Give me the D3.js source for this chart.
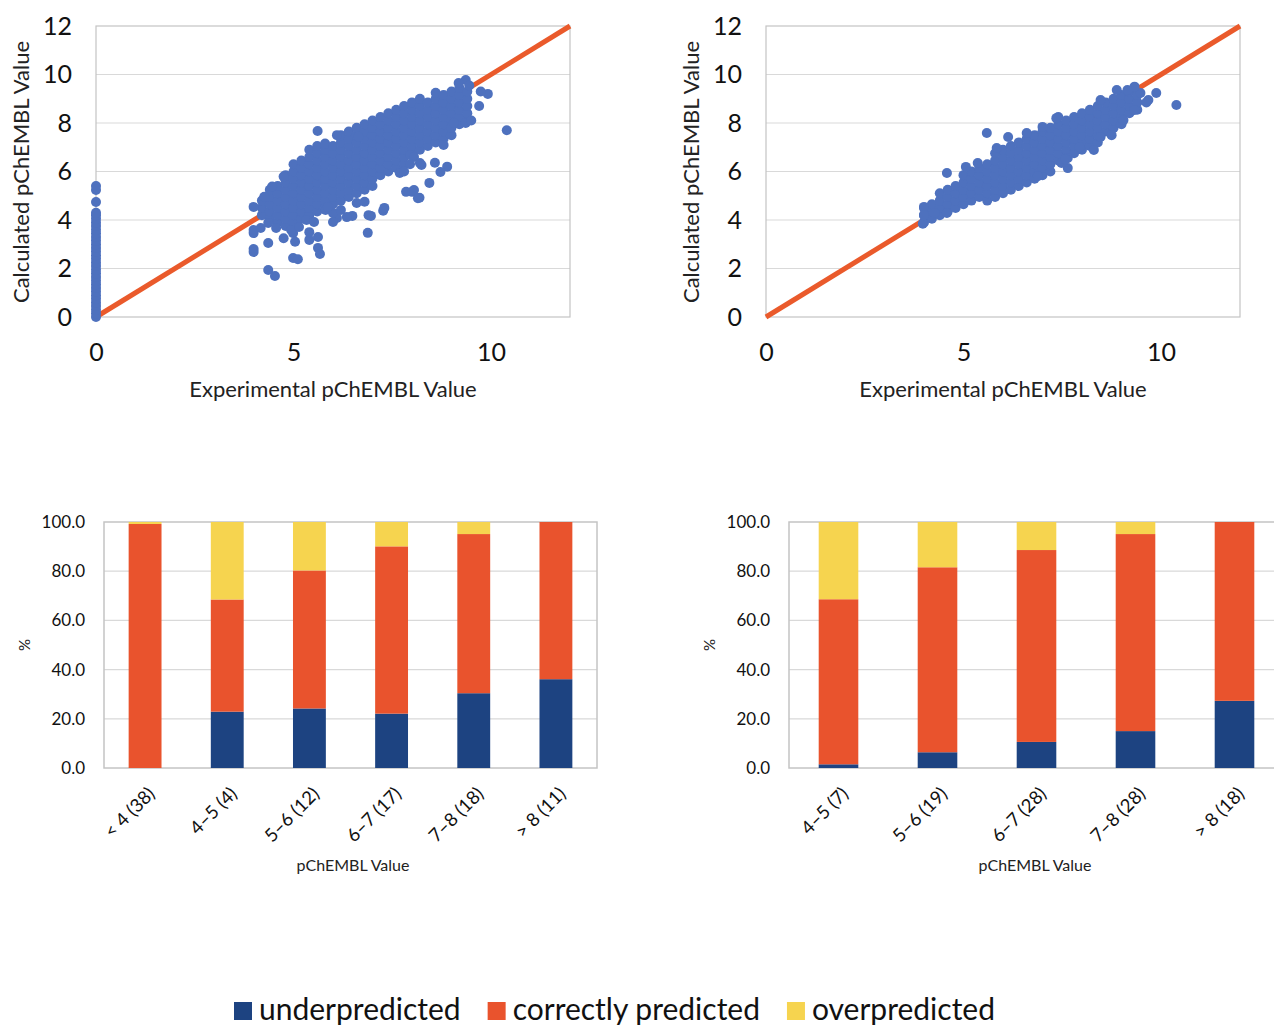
<!DOCTYPE html>
<html>
<head>
<meta charset="utf-8">
<script src="https://cdn.jsdelivr.net/npm/d3@7"></script>
<style>
  body { margin: 0; background: #fff; }
  svg { display: block; font-family: Lato, "Open Sans", sans-serif; }
</style>
</head>
<body>
<div id="chart"></div>
<script>
// ---- scatter data ----
const scatterTicksY = [0, 2, 4, 6, 8, 10, 12];
const scatterTicksX = [0, 5, 10];

// left plot: compounds with experimental value 0 sit in a strip at x = 0
const leftStripY = [0, 0.15, 0.3, 0.45, 0.6, 0.75, 0.9, 1.05, 1.2, 1.35, 1.5, 1.65, 1.8, 1.95,
  2.1, 2.25, 2.4, 2.55, 2.7, 2.85, 3.0, 3.15, 3.3, 3.45, 3.6, 3.75, 3.9, 4.05, 4.2, 4.3, 4.74, 5.24, 5.4];

// dense part of the clouds, one row per x: [x, y1, y2, ...]
const leftCore = [
  [4.2, 4.2, 4.5, 4.8],
  [4.4, 4.05, 4.35, 4.65, 4.95, 5.25],
  [4.6, 3.9, 4.2, 4.5, 4.8, 5.1, 5.4],
  [4.8, 3.75, 4.05, 4.35, 4.65, 4.95, 5.25, 5.55, 5.85],
  [5.0, 3.9, 4.2, 4.5, 4.8, 5.1, 5.4, 5.7, 6.0, 6.3],
  [5.2, 4.05, 4.35, 4.65, 4.95, 5.25, 5.55, 5.85, 6.15, 6.45],
  [5.4, 4.2, 4.5, 4.8, 5.1, 5.4, 5.7, 6.0, 6.3, 6.6, 6.9],
  [5.6, 4.35, 4.65, 4.95, 5.25, 5.55, 5.85, 6.15, 6.45, 6.75, 7.05],
  [5.8, 4.5, 4.8, 5.1, 5.4, 5.7, 6.0, 6.3, 6.6, 6.9, 7.15],
  [6.0, 4.65, 4.95, 5.25, 5.55, 5.85, 6.15, 6.45, 6.75, 7.05],
  [6.2, 4.8, 5.1, 5.4, 5.7, 6.0, 6.3, 6.6, 6.9, 7.2, 7.5],
  [6.4, 4.95, 5.25, 5.55, 5.85, 6.15, 6.45, 6.75, 7.05, 7.35, 7.65],
  [6.6, 5.1, 5.4, 5.7, 6.0, 6.3, 6.6, 6.9, 7.2, 7.5, 7.8],
  [6.8, 5.25, 5.55, 5.85, 6.15, 6.45, 6.75, 7.05, 7.35, 7.65, 7.95],
  [7.0, 5.4, 5.7, 6.0, 6.3, 6.6, 6.9, 7.2, 7.5, 7.8, 8.1],
  [7.2, 5.85, 6.15, 6.45, 6.75, 7.05, 7.35, 7.65, 7.95, 8.25],
  [7.4, 6.0, 6.3, 6.6, 6.9, 7.2, 7.5, 7.8, 8.1, 8.4],
  [7.6, 6.15, 6.45, 6.75, 7.05, 7.35, 7.65, 7.95, 8.25, 8.55],
  [7.8, 6.3, 6.6, 6.9, 7.2, 7.5, 7.8, 8.1, 8.4, 8.7],
  [8.0, 6.75, 7.05, 7.35, 7.65, 7.95, 8.25, 8.55, 8.85],
  [8.2, 6.9, 7.2, 7.5, 7.8, 8.1, 8.4, 8.7, 9.0],
  [8.4, 7.05, 7.35, 7.65, 7.95, 8.25, 8.55, 8.85],
  [8.6, 7.2, 7.5, 7.8, 8.1, 8.4, 8.7, 9.0, 9.25],
  [8.8, 7.35, 7.65, 7.95, 8.25, 8.55, 8.85, 9.15],
  [9.0, 7.5, 7.8, 8.1, 8.4, 8.7, 9.0, 9.3],
  [9.2, 7.95, 8.25, 8.55, 8.85, 9.15, 9.45],
  [9.4, 8.1, 8.4, 8.7, 9.0, 9.3]
];

const leftOutliers = [
  [5.61, 7.67], [10.4, 7.7], [9.92, 9.2], [9.74, 9.3], [9.7, 8.7], [9.36, 9.77], [9.18, 9.65],
  [9.36, 8.0], [9.5, 8.1], [9.06, 8.0], [8.89, 6.2], [8.58, 6.36], [8.72, 5.98], [8.24, 6.27],
  [8.44, 5.53], [7.85, 5.16], [8.0, 5.16], [8.19, 4.92], [8.05, 5.24], [7.27, 4.38], [7.3, 4.5],
  [6.88, 3.47], [6.96, 4.17], [6.49, 4.17], [6.35, 4.12], [6.1, 4.08], [6.0, 3.92], [5.62, 3.3],
  [5.62, 2.85], [5.67, 2.6], [5.4, 3.18], [5.4, 3.5], [4.99, 3.46], [5.04, 3.1], [4.75, 3.25],
  [4.99, 2.43], [5.11, 2.38], [4.36, 3.05], [3.99, 2.8], [3.99, 2.68], [4.36, 1.94], [4.53, 1.69],
  [3.99, 3.46], [3.99, 3.59], [3.99, 4.54], [4.17, 3.67], [4.36, 3.88], [4.56, 3.67], [4.94, 3.59],
  [5.14, 3.71], [5.33, 4.0], [5.52, 3.92], [5.81, 4.41], [6.0, 4.29], [6.2, 4.41], [8.8, 7.09],
  [7.69, 5.94], [7.95, 6.68], [8.05, 6.6], [6.1, 7.5], [6.64, 7.43], [7.95, 6.3], [8.2, 6.35],
  [8.15, 4.9], [7.8, 6.0], [6.9, 4.2], [6.6, 4.7], [6.8, 4.75], [9.45, 9.55], [5.87, 4.54],
  [4.26, 4.96], [4.46, 5.38], [4.75, 5.79]
];

const rightCore = [
  [4.0, 3.9, 4.2, 4.5],
  [4.2, 4.05, 4.35, 4.65],
  [4.4, 4.2, 4.5, 4.8, 5.1],
  [4.6, 4.35, 4.65, 4.95, 5.25],
  [4.8, 4.5, 4.8, 5.1, 5.4],
  [5.0, 4.65, 4.95, 5.25, 5.55, 5.85],
  [5.2, 4.8, 5.1, 5.4, 5.7, 6.0],
  [5.4, 4.95, 5.25, 5.55, 5.85, 6.15],
  [5.6, 4.8, 5.1, 5.4, 5.7, 6.0, 6.3],
  [5.8, 4.95, 5.25, 5.55, 5.85, 6.15, 6.45, 6.75],
  [6.0, 5.1, 5.4, 5.7, 6.0, 6.3, 6.6, 6.9],
  [6.2, 5.25, 5.55, 5.85, 6.15, 6.45, 6.75, 7.05],
  [6.4, 5.4, 5.7, 6.0, 6.3, 6.6, 6.9, 7.2],
  [6.6, 5.55, 5.85, 6.15, 6.45, 6.75, 7.05, 7.35],
  [6.8, 5.7, 6.0, 6.3, 6.6, 6.9, 7.2, 7.5],
  [7.0, 5.85, 6.15, 6.45, 6.75, 7.05, 7.35, 7.65],
  [7.2, 6.0, 6.3, 6.6, 6.9, 7.2, 7.5, 7.8],
  [7.4, 6.45, 6.75, 7.05, 7.35, 7.65, 7.95, 8.25],
  [7.6, 6.6, 6.9, 7.2, 7.5, 7.8, 8.1],
  [7.8, 6.75, 7.05, 7.35, 7.65, 7.95, 8.25],
  [8.0, 6.9, 7.2, 7.5, 7.8, 8.1, 8.4],
  [8.2, 7.05, 7.35, 7.65, 7.95, 8.25, 8.55],
  [8.4, 7.2, 7.5, 7.8, 8.1, 8.4, 8.7],
  [8.6, 7.65, 7.95, 8.25, 8.55, 8.85],
  [8.8, 7.8, 8.1, 8.4, 8.7, 9.0],
  [9.0, 7.95, 8.25, 8.55, 8.85, 9.15],
  [9.2, 8.4, 8.7, 9.0, 9.3],
  [9.4, 8.55, 8.85, 9.15]
];

const rightOutliers = [
  [10.39, 8.74], [9.88, 9.24], [9.68, 8.95], [9.63, 8.85], [9.48, 9.24], [9.33, 9.5], [9.15, 9.36],
  [8.88, 9.36], [8.75, 7.5], [8.3, 6.89], [7.64, 6.14], [7.64, 6.56], [7.48, 6.35], [7.58, 6.5],
  [6.88, 5.81], [5.59, 7.59], [6.13, 7.42], [4.58, 5.94], [4.0, 4.54], [3.97, 3.85], [4.0, 4.2],
  [5.06, 6.19], [5.36, 6.35], [7.35, 8.2], [8.47, 8.95], [9.33, 8.54], [9.05, 8.12], [8.47, 7.42],
  [7.94, 7.0], [5.84, 6.97], [6.6, 7.59], [7.0, 7.84], [4.27, 4.29], [4.58, 4.29]
];

// ---- bar data (percent per pChEMBL bin) ----
const barTicks = [0, 20, 40, 60, 80, 100];
const seriesNames = ['underpredicted', 'correctly predicted', 'overpredicted'];
const seriesColors = ['#1d4381', '#e9532d', '#f6d44f'];

const leftBins = ['< 4 (38)', '4–5 (4)', '5–6 (12)', '6–7 (17)', '7–8 (18)', '> 8 (11)'];
const leftUnder = [0, 22.9, 24.2, 22.1, 30.4, 36.1];
const leftCorrect = [99.2, 45.6, 56.1, 68.0, 64.7, 63.9];
const leftOver = [0.8, 31.5, 19.7, 9.9, 4.9, 0];

const rightBins = ['4–5 (7)', '5–6 (19)', '6–7 (28)', '7–8 (28)', '> 8 (18)'];
const rightUnder = [1.5, 6.4, 10.6, 15.0, 27.3];
const rightCorrect = [67.1, 75.2, 78.0, 80.1, 72.7];
const rightOver = [31.4, 18.4, 11.4, 4.9, 0];

const W = 1274, H = 1027;
const svg = d3.select('#chart').append('svg')
  .attr('width', W)
  .attr('height', H);

function flatten(core, extra) {
  const pts = [];
  core.forEach(row => row.slice(1).forEach(v => pts.push([row[0], v])));
  return pts.concat(extra);
}

function drawScatter(ox, points) {
  const g = svg.append('g');
  const x = d3.scaleLinear().domain([0, 12]).range([ox + 96, ox + 570]);
  const y = d3.scaleLinear().domain([0, 12]).range([317, 26]);

  g.selectAll('.grid')
    .data(scatterTicksY.slice(1, -1))
    .enter()
    .append('line')
    .attr('x1', x(0)).attr('x2', x(12))
    .attr('y1', d => y(d)).attr('y2', d => y(d))
    .attr('stroke', '#d9d9d9')
    .attr('stroke-width', 1.2);

  g.append('rect')
    .attr('x', x(0)).attr('y', y(12))
    .attr('width', x(12) - x(0)).attr('height', y(0) - y(12))
    .attr('fill', 'none')
    .attr('stroke', '#c4c4c4')
    .attr('stroke-width', 1.2);

  const yAxis = g.append('g')
    .attr('transform', `translate(${x(0)},0)`)
    .call(d3.axisLeft(y).tickValues(scatterTicksY).tickSize(0).tickPadding(24));
  const xAxis = g.append('g')
    .attr('transform', `translate(0,${y(0)})`)
    .call(d3.axisBottom(x).tickValues(scatterTicksX).tickSize(0).tickPadding(26));
  [yAxis, xAxis].forEach(a => {
    a.select('.domain').remove();
    a.attr('font-family', 'Lato, sans-serif').attr('font-size', 25);
    a.selectAll('text').attr('fill', '#111');
  });

  // 1:1 line
  g.append('line')
    .attr('x1', x(0)).attr('y1', y(0))
    .attr('x2', x(12)).attr('y2', y(12))
    .attr('stroke', '#ea5a2b')
    .attr('stroke-width', 5);

  g.selectAll('circle')
    .data(points)
    .enter()
    .append('circle')
    .attr('cx', d => x(d[0]))
    .attr('cy', d => y(d[1]))
    .attr('r', 5)
    .attr('fill', '#4e71be');

  g.append('text')
    .attr('transform', `translate(${ox + 29},172) rotate(-90)`)
    .attr('text-anchor', 'middle')
    .attr('font-size', 22)
    .attr('fill', '#222')
    .text('Calculated pChEMBL Value');

  g.append('text')
    .attr('x', (x(0) + x(12)) / 2 + 0)
    .attr('y', 397)
    .attr('text-anchor', 'middle')
    .attr('font-size', 22)
    .attr('fill', '#222')
    .text('Experimental pChEMBL Value');
}

function drawBars(x0, x1, bins, under, correct, over, pctX, titleX) {
  const g = svg.append('g');
  const rows = bins.map((b, i) => ({ bin: b, under: under[i], correct: correct[i], over: over[i] }));
  const keys = ['under', 'correct', 'over'];
  const stacked = d3.stack().keys(keys)(rows);

  const x = d3.scaleBand().domain(bins).range([x0, x1]).paddingInner(0.6).paddingOuter(0.3);
  const y = d3.scaleLinear().domain([0, 100]).range([768, 522]);

  g.selectAll('.grid')
    .data(barTicks.slice(1, -1))
    .enter()
    .append('line')
    .attr('x1', x0).attr('x2', x1)
    .attr('y1', d => y(d)).attr('y2', d => y(d))
    .attr('stroke', '#d9d9d9')
    .attr('stroke-width', 1.2);

  g.append('rect')
    .attr('x', x0).attr('y', y(100))
    .attr('width', x1 - x0).attr('height', y(0) - y(100))
    .attr('fill', 'none')
    .attr('stroke', '#c4c4c4')
    .attr('stroke-width', 1.5);

  g.selectAll('.series')
    .data(stacked)
    .enter()
    .append('g')
    .attr('fill', (d, i) => seriesColors[i])
    .selectAll('rect')
    .data(d => d)
    .enter()
    .append('rect')
    .attr('x', d => x(d.data.bin))
    .attr('width', x.bandwidth())
    .attr('y', d => y(d[1]))
    .attr('height', d => y(d[0]) - y(d[1]));

  const yAxis = g.append('g')
    .attr('transform', `translate(${x0},0)`)
    .call(d3.axisLeft(y).tickValues(barTicks).tickSize(0).tickPadding(19).tickFormat(d3.format('.1f')));
  yAxis.select('.domain').remove();
  yAxis.attr('font-family', 'Lato, sans-serif').attr('font-size', 17);
  yAxis.selectAll('text').attr('fill', '#111');

  const xAxis = g.append('g')
    .attr('transform', `translate(0,${y(0)})`)
    .call(d3.axisBottom(x).tickSize(0));
  xAxis.select('.domain').remove();
  xAxis.attr('font-family', 'Lato, sans-serif').attr('font-size', 18.5);
  xAxis.selectAll('text')
    .attr('fill', '#111')
    .attr('y', 0)
    .attr('dy', 0)
    .attr('text-anchor', 'end')
    .attr('transform', 'translate(11,27) rotate(-45)');

  g.append('text')
    .attr('transform', `translate(${pctX},645) rotate(-90)`)
    .attr('text-anchor', 'middle')
    .attr('font-size', 15)
    .attr('fill', '#222')
    .text('%');

  g.append('text')
    .attr('x', titleX)
    .attr('y', 871)
    .attr('text-anchor', 'middle')
    .attr('font-size', 16)
    .attr('fill', '#222')
    .text('pChEMBL Value');
}

drawScatter(0, flatten(leftCore, leftOutliers.concat(leftStripY.map(v => [0, v]))));
drawScatter(670, flatten(rightCore, rightOutliers));
drawBars(104, 597, leftBins, leftUnder, leftCorrect, leftOver, 30, 353);
drawBars(789, 1284, rightBins, rightUnder, rightCorrect, rightOver, 715, 1035);

// legend
const legend = svg.append('g').attr('font-size', 30);
let lx = 234;
seriesNames.forEach((name, i) => {
  legend.append('rect')
    .attr('x', lx).attr('y', 1002)
    .attr('width', 18).attr('height', 18)
    .attr('fill', seriesColors[i]);
  const t = legend.append('text')
    .attr('x', lx + 25).attr('y', 1020)
    .attr('fill', '#111')
    .text(name);
  lx += 25 + t.node().getComputedTextLength() + 27;
});
</script>
</body>
</html>
